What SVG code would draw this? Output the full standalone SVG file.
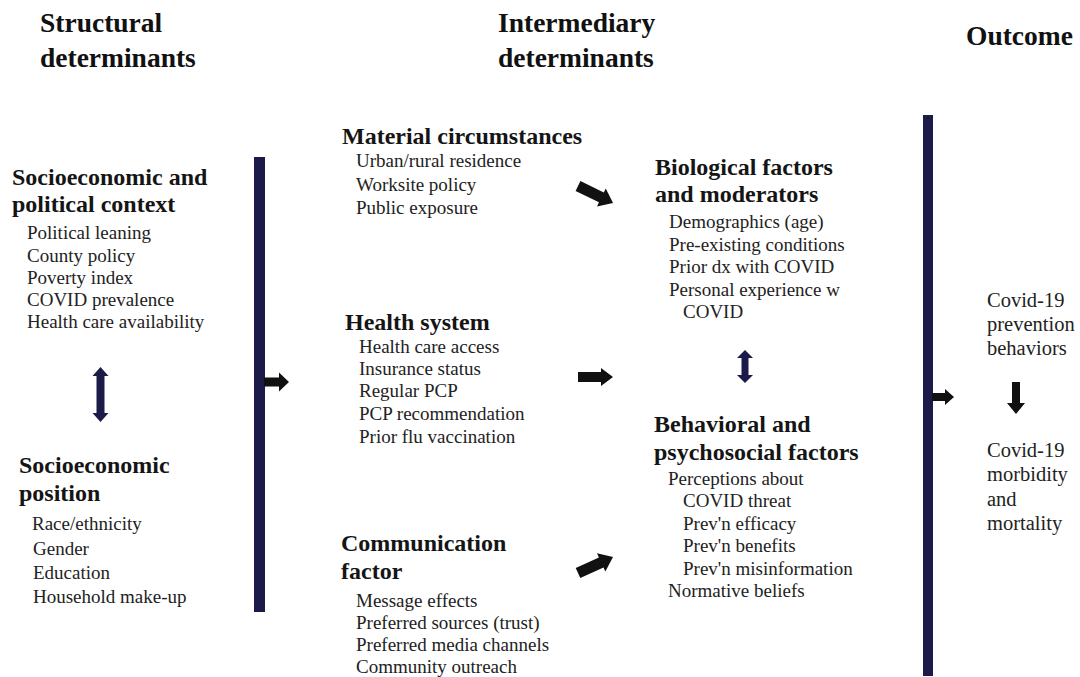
<svg xmlns="http://www.w3.org/2000/svg" width="1080" height="677" viewBox="0 0 1080 677">
  <style>
    text { font-family: "Liberation Serif", "Times New Roman", serif; }
    .title { font-size: 27.5px; font-weight: bold; fill: #111; }
    .head { font-size: 24px; font-weight: bold; fill: #151515; }
    .item { font-size: 19px; fill: #222; }
    .out { font-size: 20.5px; fill: #222; }
    .bar { fill: #1b1a48; }
    .dbl { fill: #1b1a48; }
    .blk { fill: #111; }
  </style>
  <rect width="1080" height="677" fill="#ffffff"/>

  <g id="titles">
    <text class="title" x="40" y="32">Structural</text>
    <text class="title" x="40" y="67">determinants</text>
    <text class="title" x="498" y="32">Intermediary</text>
    <text class="title" x="498" y="67">determinants</text>
    <text class="title" x="966" y="45">Outcome</text>
  </g>

  <g id="socio-political-context">
    <text class="head" x="12" y="185">Socioeconomic and</text>
    <text class="head" x="12" y="212">political context</text>
    <text class="item" x="27" y="239">Political leaning</text>
    <text class="item" x="27" y="262">County policy</text>
    <text class="item" x="27" y="284">Poverty index</text>
    <text class="item" x="27" y="306">COVID prevalence</text>
    <text class="item" x="27" y="328">Health care availability</text>
  </g>

  <g id="socio-position">
    <text class="head" x="19" y="473">Socioeconomic</text>
    <text class="head" x="19" y="501">position</text>
    <text class="item" x="32" y="530">Race/ethnicity</text>
    <text class="item" x="33" y="555">Gender</text>
    <text class="item" x="33" y="579">Education</text>
    <text class="item" x="33" y="603">Household make-up</text>
  </g>

  <g id="material">
    <text class="head" x="342" y="144">Material circumstances</text>
    <text class="item" x="356" y="167">Urban/rural residence</text>
    <text class="item" x="356" y="191">Worksite policy</text>
    <text class="item" x="356" y="214">Public exposure</text>
  </g>

  <g id="health-system">
    <text class="head" x="345" y="330">Health system</text>
    <text class="item" x="359" y="353">Health care access</text>
    <text class="item" x="359" y="375">Insurance status</text>
    <text class="item" x="359" y="397">Regular PCP</text>
    <text class="item" x="359" y="420">PCP recommendation</text>
    <text class="item" x="359" y="443">Prior flu vaccination</text>
  </g>

  <g id="communication">
    <text class="head" x="341" y="551">Communication</text>
    <text class="head" x="341" y="579">factor</text>
    <text class="item" x="356" y="607">Message effects</text>
    <text class="item" x="356" y="629">Preferred sources (trust)</text>
    <text class="item" x="356" y="651">Preferred media channels</text>
    <text class="item" x="356" y="673">Community outreach</text>
  </g>

  <g id="biological">
    <text class="head" x="655" y="175">Biological factors</text>
    <text class="head" x="655" y="202">and moderators</text>
    <text class="item" x="669" y="228">Demographics (age)</text>
    <text class="item" x="669" y="251">Pre-existing conditions</text>
    <text class="item" x="669" y="273">Prior dx with COVID</text>
    <text class="item" x="669" y="296">Personal experience w</text>
    <text class="item" x="683" y="318">COVID</text>
  </g>

  <g id="behavioral">
    <text class="head" x="654" y="432">Behavioral and</text>
    <text class="head" x="654" y="460">psychosocial factors</text>
    <text class="item" x="668" y="485">Perceptions about</text>
    <text class="item" x="683" y="507">COVID threat</text>
    <text class="item" x="683" y="530">Prev'n efficacy</text>
    <text class="item" x="683" y="552">Prev'n benefits</text>
    <text class="item" x="683" y="575">Prev'n misinformation</text>
    <text class="item" x="668" y="597">Normative beliefs</text>
  </g>

  <g id="prevention-behaviors">
    <text class="out" x="987" y="307">Covid-19</text>
    <text class="out" x="987" y="331">prevention</text>
    <text class="out" x="987" y="355">behaviors</text>
  </g>

  <g id="morbidity-mortality">
    <text class="out" x="987" y="457">Covid-19</text>
    <text class="out" x="987" y="481">morbidity</text>
    <text class="out" x="987" y="506">and</text>
    <text class="out" x="987" y="530">mortality</text>
  </g>

  <g id="bars">
    <rect class="bar" x="254" y="157" width="11" height="455"/>
    <rect class="bar" x="923" y="115" width="10" height="561"/>
  </g>

  <g id="connectors">
    <!-- navy double arrows -->
    <path class="dbl" d="M100.5,367 L108.5,376 L104.5,376 L104.5,413 L108.5,413 L100.5,422 L92.5,413 L96.5,413 L96.5,376 L92.5,376 Z"/>
    <path class="dbl" d="M745,350 L753,358 L748.5,358 L748.5,375 L753,375 L745,383 L737,375 L741.5,375 L741.5,358 L737,358 Z"/>
    <!-- black block arrows -->
    <path class="blk" transform="translate(264,382)" d="M0,-4.5 L15,-4.5 L15,-9.5 L25,0 L15,9.5 L15,4.5 L0,4.5 Z"/>
    <path class="blk" transform="translate(578,186) rotate(26)" d="M0,-5.5 L26,-5.5 L26,-10 L39,0 L26,10 L26,5.5 L0,5.5 Z"/>
    <path class="blk" transform="translate(578,377)" d="M0,-5 L23,-5 L23,-9 L35,0 L23,9 L23,5 L0,5 Z"/>
    <path class="blk" transform="translate(578,573) rotate(-24.6)" d="M0,-5.5 L25.5,-5.5 L25.5,-10 L38.5,0 L25.5,10 L25.5,5.5 L0,5.5 Z"/>
    <path class="blk" transform="translate(932,397)" d="M0,-4 L13,-4 L13,-8 L22,0 L13,8 L13,4 L0,4 Z"/>
    <path class="blk" transform="translate(1016,382) rotate(90)" d="M0,-4 L21,-4 L21,-9 L32,0 L21,9 L21,4 L0,4 Z"/>
  </g>
</svg>
